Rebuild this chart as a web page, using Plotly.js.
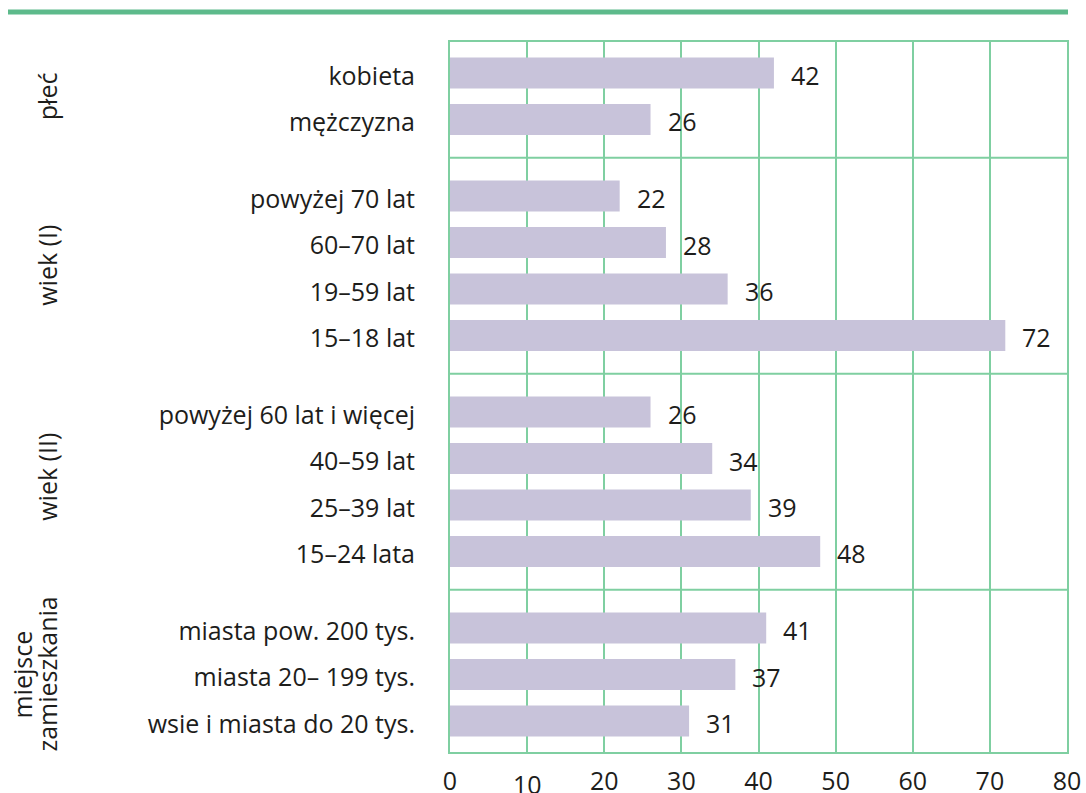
<!DOCTYPE html>
<html>
<head>
<meta charset="utf-8">
<script src="https://cdn.plot.ly/plotly-3.0.1.min.js"></script>
<style>html,body{margin:0;padding:0;background:#fff;}#chart{width:1086px;height:793px;}</style>
</head>
<body>
<div id="chart"></div>
<script>
// ---- data ----
const groupLabels = ['płeć', 'wiek (I)', 'wiek (II)', 'miejsce<br>zamieszkania'];
const categories = [
  'kobieta', 'mężczyzna',
  'powyżej 70 lat', '60–70 lat', '19–59 lat', '15–18 lat',
  'powyżej 60 lat i więcej', '40–59 lat', '25–39 lat', '15–24 lata',
  'miasta pow. 200 tys.', 'miasta 20– 199 tys.', 'wsie i miasta do 20 tys.'
];
const groupOf = [0, 0, 1, 1, 1, 1, 2, 2, 2, 2, 3, 3, 3];
const values = [42, 26, 22, 28, 36, 72, 26, 34, 39, 48, 41, 37, 31];
const xTickVals = [0, 10, 20, 30, 40, 50, 60, 70, 80];
const xTickLabels = ['0', '10', '20', '30', '40', '50', '60', '70', '80'];

// ---- layout helpers ----
const W = 1086, H = 793;
const M = {l: 450, r: 19, t: 42, b: 41};
const plotW = W - M.l - M.r, plotH = H - M.t - M.b;
const GAP = 0.65;
const pos = categories.map((c, i) => i + groupOf[i] * GAP);
const GREEN = '#7fcfa1';
const FONT = 'Open Sans, Liberation Sans, sans-serif';
const FS = 25;
const TXT = '#1d1d1b';
const pxToPaperX = px => (px - M.l) / plotW;
const pxToPaperY = py => (H - M.b - py) / plotH;

const shapes = [];
const annotations = [];
const nGroups = groupLabels.length;
for (let g = 0; g < nGroups; g++) {
  const idx = pos.filter((p, i) => groupOf[i] === g);
  const center = (idx[0] + idx[idx.length - 1]) / 2;
  if (g < nGroups - 1) {
    const nextFirst = pos.find((p, i) => groupOf[i] === g + 1);
    const sep = (idx[idx.length - 1] + nextFirst) / 2;
    shapes.push({type: 'line', xref: 'paper', x0: 0, x1: 1, yref: 'y', y0: sep, y1: sep,
      line: {color: GREEN, width: 2}, layer: 'below'});
  }
  const lines = groupLabels[g].split('<br>');
  const spacing = 25;
  const baseX = lines.length > 1 ? 22 : 47;
  lines.forEach((ln, k) => {
    annotations.push({
      text: ln, xref: 'paper', yref: 'y',
      x: pxToPaperX(baseX + k * spacing), y: center,
      xanchor: 'center', yanchor: 'middle', textangle: -90, showarrow: false,
      yshift: g === 2 ? 5 : 0,
      font: {family: FONT, size: FS, color: TXT}
    });
  });
}

// value labels
values.forEach((v, i) => {
  annotations.push({
    text: String(v), x: v, y: pos[i], xref: 'x', yref: 'y',
    xanchor: 'left', yanchor: 'middle', xshift: 15, yshift: -2, showarrow: false,
    font: {family: FONT, size: FS, color: TXT}
  });
});

// lowered "10" tick label
const lowered = 1;
annotations.push({
  text: xTickLabels[lowered], x: xTickVals[lowered], xref: 'x', yref: 'paper', y: 0,
  xanchor: 'center', yanchor: 'top', yshift: -13, showarrow: false,
  font: {family: FONT, size: FS, color: TXT}
});

// top thick green rule
shapes.push({type: 'line', xref: 'paper', yref: 'paper',
  x0: pxToPaperX(8), x1: pxToPaperX(1068), y0: pxToPaperY(12), y1: pxToPaperY(12),
  line: {color: '#5dba8b', width: 5}});

const trace = {
  type: 'bar', orientation: 'h',
  x: values, y: pos, width: 0.667,
  marker: {color: '#c8c3da', line: {width: 0}},
  hoverinfo: 'skip'
};

const last = pos[pos.length - 1];
const layout = {
  width: W, height: H,
  margin: M,
  paper_bgcolor: '#fff', plot_bgcolor: '#fff',
  showlegend: false,
  font: {family: FONT, size: FS, color: TXT},
  xaxis: {
    range: [0, 80], tickvals: xTickVals,
    ticktext: xTickLabels.map((t, i) => i === lowered ? '' : t),
    showgrid: true, gridcolor: GREEN, gridwidth: 2,
    zeroline: false, showline: true, mirror: true, linecolor: GREEN, linewidth: 2,
    ticks: '', ticklabelstandoff: 6,
    tickfont: {family: FONT, size: FS, color: TXT}, fixedrange: true
  },
  yaxis: {
    range: [last + 0.667, -0.667],
    tickvals: pos, ticktext: categories,
    showgrid: false, zeroline: false, showline: true, mirror: true,
    linecolor: GREEN, linewidth: 2,
    ticks: '', ticklabelstandoff: 28, ticklabelshift: -3,
    tickfont: {family: FONT, size: FS, color: TXT}, fixedrange: true
  },
  shapes: shapes,
  annotations: annotations
};

Plotly.newPlot('chart', [trace], layout, {displayModeBar: false, staticPlot: true});
</script>
</body>
</html>
